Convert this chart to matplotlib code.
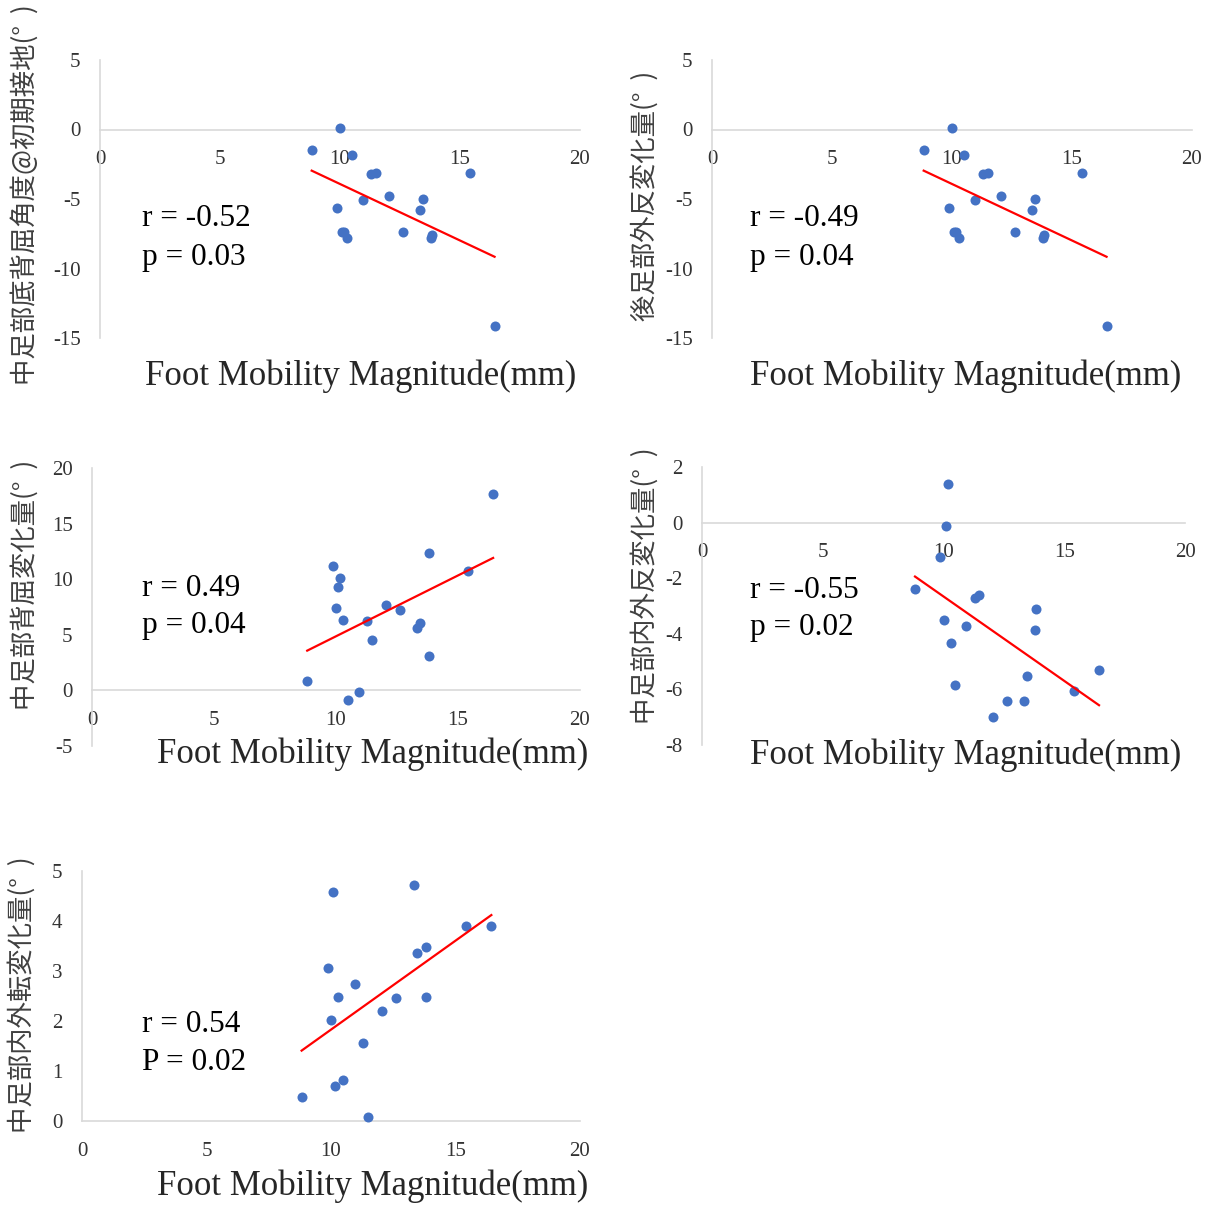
import numpy as np
import matplotlib
matplotlib.use("Agg")
import matplotlib.pyplot as plt

plt.rcParams["axes.unicode_minus"] = False

W, H = 1211, 1205

# ---- data ----
foot_mobility = [8.82, 9.87, 10.01, 10.10, 10.18, 10.30, 10.48, 10.95, 11.29,
                 11.49, 12.04, 12.61, 13.33, 13.46, 13.80, 13.82, 15.42, 16.44]

midfoot_dorsi_ic = [-1.46, -5.68, 0.12, -7.34, -7.36, -7.84, -1.87, -5.06, -3.17,
                    -3.14, -4.82, -7.39, -5.80, -5.01, -7.84, -7.58, -3.14, -14.15]
rearfoot_eversion = [-1.46, -5.68, 0.12, -7.34, -7.36, -7.84, -1.87, -5.06, -3.17,
                     -3.14, -4.82, -7.39, -5.80, -5.01, -7.84, -7.58, -3.14, -14.15]
midfoot_dorsi_change = [0.83, 11.22, 7.40, 9.28, 10.14, 6.29, -0.87, -0.15, 6.23,
                        4.53, 7.64, 7.19, 5.60, 6.09, 12.32, 3.13, 10.74, 17.64]
midfoot_eversion = [-2.38, -1.23, -3.51, -0.13, 1.40, -4.34, -5.85, -3.73, -2.72,
                    -2.60, -7.00, -6.40, -6.43, -5.50, -3.85, -3.09, -6.07, -5.30]
midfoot_abduction = [0.49, 3.07, 2.02, 4.59, 0.71, 2.48, 0.83, 2.75, 1.57,
                     0.09, 2.21, 2.47, 4.72, 3.37, 3.49, 2.48, 3.90, 3.90]

ylabels = ["中足部底背屈角度@初期接地(°  )", "後足部外反変化量(°  )",
           "中足部背屈変化量(°  )", "中足部内外反変化量(°  )", "中足部内外転変化量(°  )"]
stat_r = ["r = -0.52", "r = -0.49", "r = 0.49", "r = -0.55", "r = 0.54"]
stat_p = ["p = 0.03", "p = 0.04", "p = 0.04", "p = 0.02", "P = 0.02"]
xlabel = "Foot Mobility Magnitude(mm)"
xticks = [0, 5, 10, 15, 20]
yticks_list = [[-15, -10, -5, 0, 5], [-15, -10, -5, 0, 5], [-5, 0, 5, 10, 15, 20],
               [-8, -6, -4, -2, 0, 2], [0, 1, 2, 3, 4, 5]]
series = [midfoot_dorsi_ic, rearfoot_eversion, midfoot_dorsi_change,
          midfoot_eversion, midfoot_abduction]

# ---- layout (pixels) ----
boxes = [(100, 580, 60, 338), (712, 1192, 60, 338), (92, 580, 468, 746),
         (702, 1185, 467, 745), (82, 580, 871, 1121)]
ylab_pos = [(25, 195), (645, 196), (25, 585), (645, 586), (22, 995)]
xlab_pos = [(361, 376), (966, 376), (373, 754), (966, 755), (373, 1186)]
stat_pos = [(142, 218, 257), (750, 218, 257), (142, 588, 626), (750, 590, 628),
            (142, 1025, 1063)]

SERIF = "Liberation Serif"
CJK = ["Noto Sans CJK JP", "DejaVu Sans"]
GRID = "#d9d9d9"
TICKC = "#333333"

fig = plt.figure(figsize=(W / 100, H / 100), dpi=100)

def fx(x):
    return x / W

def fy(y):
    return 1 - y / H

for i in range(5):
    l, r, t, b = boxes[i]
    ax = fig.add_axes([fx(l), fy(b), fx(r - l), (b - t) / H])
    ax.set_facecolor("none")
    yt = yticks_list[i]
    ax.set_xlim(0, 20)
    ax.set_ylim(yt[0], yt[-1])
    ax.set_xticks(xticks)
    ax.set_yticks(yt)
    for s in ["top", "right"]:
        ax.spines[s].set_visible(False)
    ax.spines["bottom"].set_position(("data", 0))
    for s in ["left", "bottom"]:
        ax.spines[s].set_color(GRID)
        ax.spines[s].set_linewidth(1.2)
    ax.tick_params(length=0, labelsize=15, labelcolor=TICKC)
    ax.tick_params(axis="x", pad=15)
    ax.tick_params(axis="y", pad=14)
    for lab in ax.get_xticklabels() + ax.get_yticklabels():
        lab.set_fontfamily(SERIF)

    y = np.array(series[i])
    x = np.array(foot_mobility)
    ax.scatter(x, y, s=52, color="#4472C4", zorder=3, clip_on=False, linewidths=0)
    k, c = np.polyfit(x, y, 1)
    xs = np.array([x.min(), x.max()])
    ax.plot(xs, k * xs + c, color="#ff0000", lw=1.6, zorder=4)

    sx, sy1, sy2 = stat_pos[i]
    fig.text(fx(sx), fy(sy1), stat_r[i], fontsize=22.5, family=SERIF,
             ha="left", va="center", color="black")
    fig.text(fx(sx), fy(sy2), stat_p[i], fontsize=22.5, family=SERIF,
             ha="left", va="center", color="black")
    lx, ly = xlab_pos[i]
    fig.text(fx(lx), fy(ly), xlabel, fontsize=25, family=SERIF,
             ha="center", va="center", color="#262626")
    yx, yy = ylab_pos[i]
    fig.text(fx(yx), fy(yy), ylabels[i], fontsize=19, family=CJK, rotation=90,
             ha="center", va="center", color="#404040")

fig.savefig("out.png", dpi=100, facecolor="white")
